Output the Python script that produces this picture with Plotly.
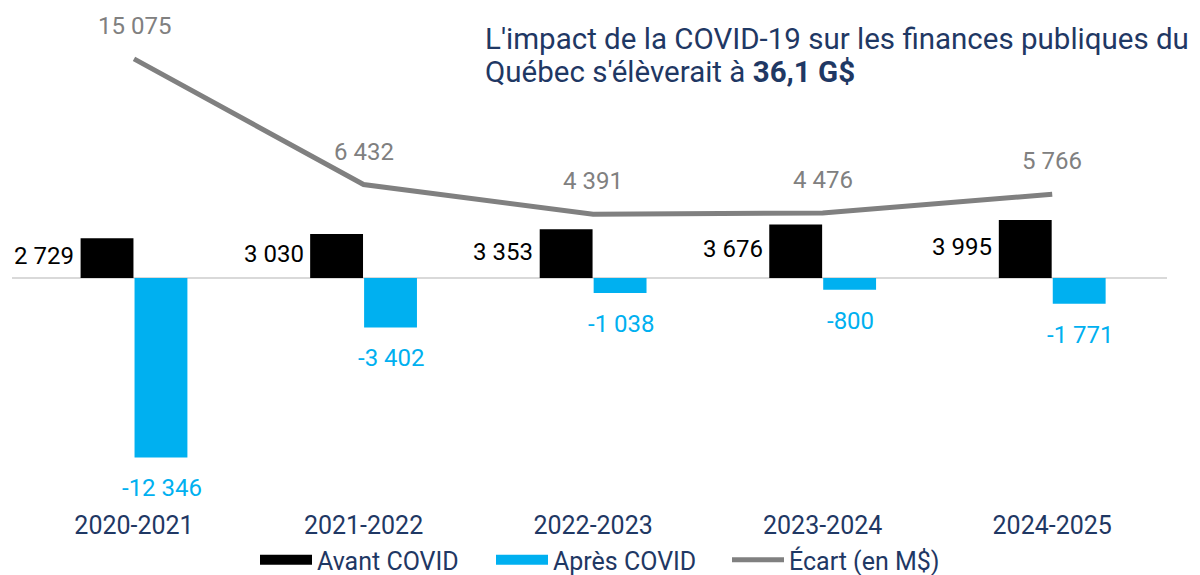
import plotly.graph_objects as go

categories = ["2020-2021", "2021-2022", "2022-2023", "2023-2024", "2024-2025"]
avant_covid = [2729, 3030, 3353, 3676, 3995]
apres_covid = [-12346, -3402, -1038, -800, -1771]
ecart = [15075, 6432, 4391, 4476, 5766]

avant_labels = ["2 729", "3 030", "3 353", "3 676", "3 995"]
apres_labels = ["-12 346", "-3 402", "-1 038", "-800", "-1 771"]
ecart_labels = ["15 075", "6 432", "4 391", "4 476", "5 766"]

NAVY = "#1F3864"
BLUE = "#00B0F0"
GRAY = "#808080"
FONT = "Roboto"

W, H = 1200, 575
ML, MR, MT, MB = 4, 41, 3, 0
PAPER_H = H - MT - MB
PAPER_W = W - ML - MR
PLOT_BOTTOM_PX = 493


def py(px):
    """pixel row -> paper y"""
    return (H - MB - px) / PAPER_H


def px_(x):
    return (x - ML) / PAPER_W


fig = go.Figure()
fig.add_trace(go.Bar(x=categories, y=avant_covid, name="Avant COVID", showlegend=False,
                     legendgroup="a", marker=dict(color="#000000", line=dict(width=0))))
fig.add_trace(go.Bar(x=categories, y=apres_covid, name="Après COVID", showlegend=False,
                     legendgroup="b", marker=dict(color=BLUE, line=dict(width=0))))
fig.add_trace(go.Scatter(x=categories, y=ecart, name="Écart (en M$)", mode="lines",
                         showlegend=False, legendgroup="c",
                         line=dict(color=GRAY, width=5)))
# legend swatches (no data drawn)
fig.add_trace(go.Scatter(x=[None], y=[None], name="Avant COVID", mode="lines", legendgroup="a",
                         line=dict(color="#000000", width=16), hoverinfo="skip"))
fig.add_trace(go.Scatter(x=[None], y=[None], name="Après COVID", mode="lines", legendgroup="b",
                         line=dict(color=BLUE, width=16), hoverinfo="skip"))
fig.add_trace(go.Scatter(x=[None], y=[None], name="Écart (en M$)", mode="lines", legendgroup="c",
                         line=dict(color=GRAY, width=5), hoverinfo="skip"))

ann = []
for c, v, t in zip(categories, avant_covid, avant_labels):
    ann.append(dict(x=c, y=v / 2, text=t, showarrow=False, xanchor="right", yanchor="middle",
                    xshift=-58, yshift=2, font=dict(family=FONT, size=24, color="#000000")))
for c, v, t in zip(categories, apres_covid, apres_labels):
    ann.append(dict(x=c, y=v, text=t, showarrow=False, xanchor="center", yanchor="middle",
                    xshift=28, yshift=-31, font=dict(family=FONT, size=24, color=BLUE)))
for c, v, t in zip(categories, ecart, ecart_labels):
    ann.append(dict(x=c, y=v, text=t, showarrow=False, xanchor="center", yanchor="middle",
                    yshift=33, font=dict(family=FONT, size=24, color=GRAY)))

ann.append(dict(xref="paper", yref="paper", x=px_(475), y=py(31), xanchor="left", yanchor="middle",
                showarrow=False,
                text="L'impact de la COVID-19 sur les finances publiques du",
                font=dict(family=FONT, size=29.5, color=NAVY)))
ann.append(dict(xref="paper", yref="paper", x=px_(475), y=py(64), xanchor="left", yanchor="middle",
                showarrow=False,
                text="Québec s'élèverait à <b>36,1 G$</b>",
                font=dict(family=FONT, size=29.5, color=NAVY)))

fig.update_layout(
    width=W, height=H,
    margin=dict(l=ML, r=MR, t=MT, b=MB),
    paper_bgcolor="white", plot_bgcolor="white",
    barmode="group", bargap=0.53, bargroupgap=0.02,
    showlegend=True,
    legend=dict(orientation="h", x=px_(247), xanchor="left", y=0, yanchor="bottom",
                font=dict(family=FONT, size=25, color=NAVY), itemwidth=52,
                entrywidth=169, entrywidthmode="pixels",
                traceorder="normal"),
    xaxis=dict(showgrid=False, showline=False, ticks="", automargin=False,
               ticklabelstandoff=7,
               tickfont=dict(family=FONT, size=25, color=NAVY)),
    yaxis=dict(range=[-15342, 18370], showgrid=False, showticklabels=False, automargin=False,
               domain=[py(PLOT_BOTTOM_PX), 1],
               zeroline=True, zerolinecolor="#D9D9D9", zerolinewidth=2),
    annotations=ann,
    font=dict(family=FONT),
)

fig.write_html("out.html")
